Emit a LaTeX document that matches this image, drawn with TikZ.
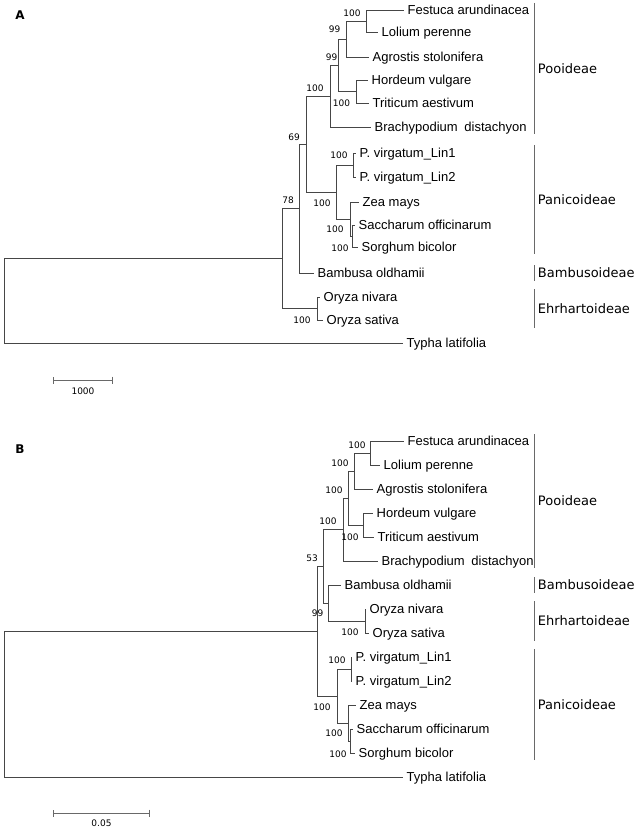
\documentclass[tikz,border=0pt]{standalone}
\usepackage{fontspec}
\setmainfont{Liberation Sans}
\newfontfamily\dejavu{DejaVu Sans}
\usetikzlibrary{arrows.meta}
\definecolor{treegray}{RGB}{70,70,70}
\definecolor{cladegray}{RGB}{105,105,105}

\begin{document}
\begin{tikzpicture}[x=1pt, y=-1pt,
    branch/.style={treegray, line width=0.9pt},
    tip/.style={anchor=west, inner sep=0pt, xshift=3.5pt, text height=10pt, text depth=1pt,
        font=\fontsize{13}{15}\selectfont},
    boot/.style={inner sep=0pt, font=\dejavu\fontsize{9}{10}\selectfont},
    clade/.style={cladegray, line width=0.9pt},
    cladelabel/.style={anchor=west, inner sep=0pt, xshift=3.5pt, text=black,
        font=\dejavu\fontsize{13}{15}\selectfont},
    scalebar/.style={cladegray, line width=0.9pt, {Bar[width=7pt]}-{Bar[width=7pt]}},
    panel/.style={inner sep=0pt, font=\dejavu\bfseries\fontsize{12}{14}\selectfont}]
    \useasboundingbox (0,0) rectangle (639,829);

    % --- Tree A (top) ---
    \node[panel] (panelA) at (20,15) {A};

    % Tips
    \foreach \n/\x/\y/\t in {aFes/404/10/Festuca arundinacea, aLol/378/32/Lolium perenne,
        aAgr/369/57/Agrostis stolonifera, aHor/368/80/Hordeum vulgare,
        aTri/369/103/Triticum aestivum, aBra/371/127/Brachypodium\hspace{3pt} distachyon,
        aLin1/356/153/P. virgatum\_Lin1, aLin2/356/177/P. virgatum\_Lin2,
        aZea/359/202/Zea mays, aSac/355/225/Saccharum officinarum,
        aSor/358/247/Sorghum bicolor, aBam/314/273/Bambusa oldhamii,
        aNiv/320/297/Oryza nivara, aSat/323/320/Oryza sativa,
        aTyp/403/343/Typha latifolia}{
        \coordinate (\n) at (\x,\y);
        \node[tip] (\n-lab) at (\n) {\t};
    }

    % Internal nodes
    \foreach \n/\x/\y in {aFL/366/21, aFLA/346/39, aHT/356/91.5, aP99/338/65.25,
        aPoo/330/96.1, aPV/353/165, aSS/352/236, aZSS/350/219, aPan/336/192,
        a69/306/144, a78/299/208.5, aOry/317/308.5, aIng/282/258.5, aRoot/4/300.75}{
        \coordinate (\n) at (\x,\y);
    }

    % Branches
    \foreach \p/\c in {aFL/aFes, aFL/aLol, aFLA/aFL, aFLA/aAgr, aHT/aHor, aHT/aTri,
        aP99/aFLA, aP99/aHT, aPoo/aP99, aPoo/aBra, aPV/aLin1, aPV/aLin2,
        aSS/aSac, aSS/aSor, aZSS/aZea, aZSS/aSS, aPan/aPV, aPan/aZSS,
        a69/aPoo, a69/aPan, a78/a69, a78/aBam, aOry/aNiv, aOry/aSat,
        aIng/a78, aIng/aOry, aRoot/aIng, aRoot/aTyp}{
        \draw[branch] (\p) |- (\c);
    }

    % Bootstrap values
    \foreach \x/\y/\v [count=\i] in {352/13/100, 334.5/29/99, 331.5/57/99, 315/88/100,
        341.5/103/100, 294/137/69, 288/200/78, 339/155/100, 322/203/100,
        335/229/100, 340/248/100, 302/320/100}{
        \node[boot] (aboot\i) at (\x,\y) {\v};
    }

    % Clades
    \draw[clade] (534,3) -- (534,134) node[cladelabel, midway] (aPooL) {Pooideae};
    \draw[clade] (534,145) -- (534,254) node[cladelabel, midway] (aPanL) {Panicoideae};
    \draw[clade] (534,265) -- (534,281) node[cladelabel, midway] (aBamL) {Bambusoideae};
    \draw[clade] (534,289) -- (534,328) node[cladelabel, midway] (aEhrL) {Ehrhartoideae};

    % Scale
    \coordinate (aScL) at (53,380);
    \coordinate (aScR) at (113,380);
    \draw[scalebar] (aScL) -- (aScR);
    \node[boot] (aScLab) at (83,391) {1000};

    % --- Tree B (bottom) ---
    \node[panel] (panelB) at (20,449) {B};

    % Tips
    \foreach \n/\x/\y/\t in {bFes/404/441/Festuca arundinacea, bLol/380/465/Lolium perenne,
        bAgr/373/489/Agrostis stolonifera, bHor/373/513/Hordeum vulgare,
        bTri/374/537/Triticum aestivum, bBra/378/561/Brachypodium\hspace{3pt} distachyon,
        bBam/341/585/Bambusa oldhamii, bNiv/366/609/Oryza nivara,
        bSat/369/633/Oryza sativa, bLin1/352/657/P. virgatum\_Lin1,
        bLin2/352/681/P. virgatum\_Lin2, bZea/356/705/Zea mays,
        bSac/353/729/Saccharum officinarum, bSor/355/753/Sorghum bicolor,
        bTyp/403/777/Typha latifolia}{
        \coordinate (\n) at (\x,\y);
        \node[tip] (\n-lab) at (\n) {\t};
    }

    % Internal nodes
    \foreach \n/\x/\y in {bFL/370/453, bFLA/354/471, bHT/363/525, bP2/348/498,
        bPoo/343/529.5, bOry/365/621, bBO/328/603, b53/323/566.25, bPV/351/669,
        bSS/350/741, bZSS/348/723, bPan/337/696, b99/317/631.1, bRoot/4/704}{
        \coordinate (\n) at (\x,\y);
    }

    % Branches
    \foreach \p/\c in {bFL/bFes, bFL/bLol, bFLA/bFL, bFLA/bAgr, bHT/bHor, bHT/bTri,
        bP2/bFLA, bP2/bHT, bPoo/bP2, bPoo/bBra, bOry/bNiv, bOry/bSat,
        bBO/bBam, bBO/bOry, b53/bPoo, b53/bBO, bPV/bLin1, bPV/bLin2,
        bSS/bSac, bSS/bSor, bZSS/bZea, bZSS/bSS, bPan/bPV, bPan/bZSS,
        b99/b53, b99/bPan, bRoot/b99, bRoot/bTyp}{
        \draw[branch] (\p) |- (\c);
    }

    % Bootstrap values
    \foreach \x/\y/\v [count=\i] in {357/445/100, 340/463/100, 334/490/100, 328/521/100,
        350/537/100, 312/558/53, 317.5/613/99, 350/632/100, 337/660/100,
        322/707/100, 334/733/100, 338/754/100}{
        \node[boot] (bboot\i) at (\x,\y) {\v};
    }

    % Clades
    \draw[clade] (534,434) -- (534,568) node[cladelabel, midway] (bPooL) {Pooideae};
    \draw[clade] (534,577) -- (534,593) node[cladelabel, midway] (bBamL) {Bambusoideae};
    \draw[clade] (534,601) -- (534,641) node[cladelabel, midway] (bEhrL) {Ehrhartoideae};
    \draw[clade] (534,649) -- (534,760) node[cladelabel, midway] (bPanL) {Panicoideae};

    % Scale
    \coordinate (bScL) at (53,813);
    \coordinate (bScR) at (150,813);
    \draw[scalebar] (bScL) -- (bScR);
    \node[boot] (bScLab) at (101.5,823.5) {0.05};
\end{tikzpicture}
\end{document}
